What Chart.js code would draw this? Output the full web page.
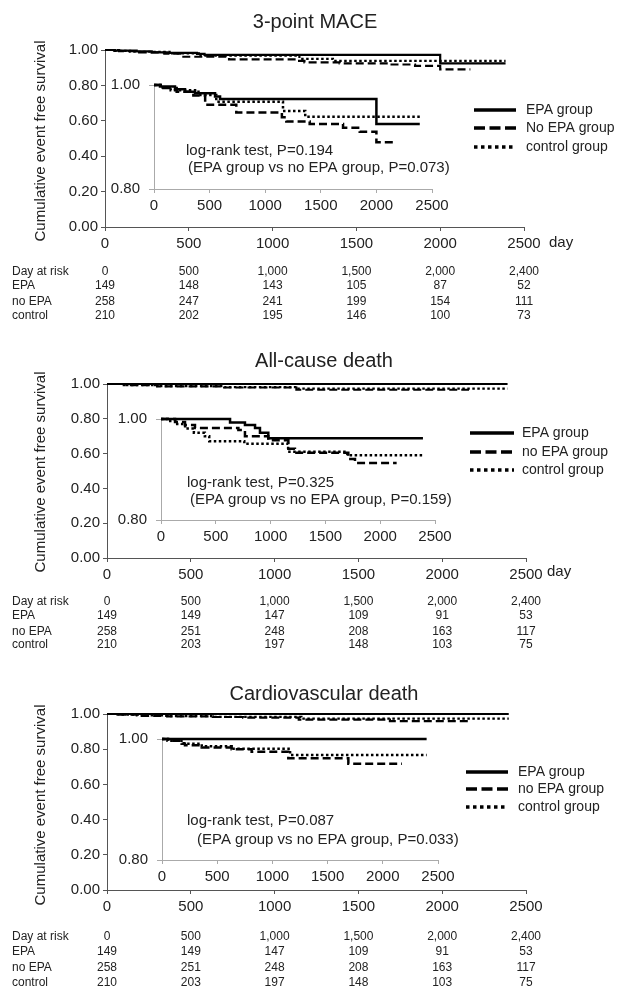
<!DOCTYPE html>
<html>
<head>
<meta charset="utf-8">
<script src="https://cdn.jsdelivr.net/npm/chart.js@4.4.1/dist/chart.umd.min.js"></script>
<style>
    body { margin: 0; background: #fff; }
    #page { position: relative; width: 619px; height: 990px; }
    .panel { position: absolute; left: 0; width: 619px; height: 330px; }
    .panel canvas { position: absolute; left: 0; top: 0; }
</style>
</head>
<body>
<div id="page">
    <div class="panel" style="top:0px"><canvas id="main0" width="619" height="330"></canvas><canvas id="inset0" width="619" height="330"></canvas></div>
    <div class="panel" style="top:330px"><canvas id="main1" width="619" height="330"></canvas><canvas id="inset1" width="619" height="330"></canvas></div>
    <div class="panel" style="top:660px"><canvas id="main2" width="619" height="330"></canvas><canvas id="inset2" width="619" height="330"></canvas></div>
</div>
<script>
// --- DATA ---
const titles = ['3-point MACE', 'All-cause death', 'Cardiovascular death'];
const legendNames1 = ['EPA group', 'No EPA group', 'control group'];
const legendNames = ['EPA group', 'no EPA group', 'control group'];
const logRank = [
    ['log-rank test, P=0.194', '(EPA group vs no EPA group, P=0.073)'],
    ['log-rank test, P=0.325', '(EPA group vs no EPA group, P=0.159)'],
    ['log-rank test, P=0.087', '(EPA group vs no EPA group, P=0.033)'],
];
const yTitle = 'Cumulative event free survival';
const mainYTicks = [0, 0.2, 0.4, 0.6, 0.8, 1.0];
const insetYTicks = [0.8, 1.0];
const xTicks = [0, 500, 1000, 1500, 2000, 2500];

// risk table
const riskHeader = ['0', '500', '1,000', '1,500', '2,000', '2,400'];
const riskRowNames = ['EPA', 'no EPA', 'control'];
const maceRiskEpa = [149, 148, 143, 105, 87, 52];
const maceRiskNoEpa = [258, 247, 241, 199, 154, 111];
const maceRiskControl = [210, 202, 195, 146, 100, 73];
const deathRiskEpa = [149, 149, 147, 109, 91, 53];
const deathRiskNoEpa = [258, 251, 248, 208, 163, 117];
const deathRiskControl = [210, 203, 197, 148, 103, 75];
const cvRiskEpa = [149, 149, 147, 109, 91, 53];
const cvRiskNoEpa = [258, 251, 248, 208, 163, 117];
const cvRiskControl = [210, 203, 197, 148, 103, 75];

// 3-point MACE curves (days of each step, survival after the step)
const maceEpaDays = [0, 54, 189, 279, 369, 549, 594, 2000, 2390];
const maceEpaSurv = [1, 0.997, 0.992, 0.987, 0.984, 0.978, 0.973, 0.925, 0.925];
const maceNoEpaDays = [0, 84, 204, 354, 460, 740, 1150, 1190, 1400, 1700, 1850, 2000, 2180];
const maceNoEpaSurv = [1, 0.994, 0.987, 0.980, 0.962, 0.947, 0.938, 0.930, 0.925, 0.918, 0.910, 0.890, 0.890];
const maceControlDays = [0, 60, 150, 400, 560, 1160, 1360, 2390];
const maceControlSurv = [1, 0.995, 0.990, 0.981, 0.968, 0.950, 0.939, 0.939];

// all-cause death, inset curves
const deathEpaDays = [0, 630, 766, 858, 903, 979, 2390];
const deathEpaSurv = [1, 0.993, 0.988, 0.982, 0.973, 0.962, 0.962];
const deathNoEpaDays = [0, 128, 219, 310, 706, 766, 979, 1162, 1222, 1709, 1770, 2150];
const deathNoEpaSurv = [1, 0.994, 0.988, 0.982, 0.978, 0.966, 0.958, 0.941, 0.933, 0.921, 0.913, 0.913];
const deathControlDays = [0, 60, 130, 220, 300, 400, 440, 760, 1160, 1700, 2390];
const deathControlSurv = [1, 0.996, 0.990, 0.981, 0.973, 0.966, 0.956, 0.951, 0.935, 0.928, 0.928];
// all-cause death, main panel curves (drawn differently in the source)
const deathMainEpaDays = [0, 2390];
const deathMainEpaSurv = [1, 1];
const deathMainNoEpaDays = [0, 100, 300, 700, 1130, 2160];
const deathMainNoEpaSurv = [1, 0.993, 0.986, 0.980, 0.967, 0.967];
const deathMainControlDays = [0, 100, 300, 700, 1130, 2390];
const deathMainControlSurv = [1, 0.994, 0.988, 0.982, 0.973, 0.973];

// cardiovascular death curves
const cvEpaDays = [0, 2397];
const cvEpaSurv = [1, 1];
const cvNoEpaDays = [0, 57, 178, 208, 360, 631, 812, 1144, 1688, 2174];
const cvNoEpaSurv = [1, 0.997, 0.992, 0.9895, 0.986, 0.983, 0.979, 0.968, 0.959, 0.959];
const cvControlDays = [0, 50, 200, 360, 631, 1160, 2397];
const cvControlSurv = [1, 0.997, 0.992, 0.988, 0.984, 0.9735, 0.9735];

document.addEventListener('DOMContentLoaded', function () {
    const W = 619, H = 330, AXIS_H = 30;
    const FONT = "'Liberation Sans', Arial, sans-serif";
    Chart.defaults.font.family = FONT;

    // line styles: solid / dashed / dotted
    const styles = [
        { dash: [], legendDash: [] },
        { dash: [8, 4], legendDash: [11, 4.5] },
        { dash: [2.5, 2.5], legendDash: [3.5, 3.5] },
    ];

    // --- LAYOUT OF EACH PANEL (page pixels) ---
    const panels = [
        {
            top: 0, titleX: 315, titleY: 28,
            main: { left: 105, right: 524, top: 50, bottom: 227 },
            inset: { left: 154, right: 432, top: 85, bottom: 189 },
            yTitleY: 141,
            legend: { x1: 474, x2: 516, tx: 526, ys: [110, 128, 147], names: legendNames1 },
            logRankPos: [[186, 151], [188, 168]],
            day: [549, 243],
            riskY: [272, 286, 302, 316],
            risk: [maceRiskEpa, maceRiskNoEpa, maceRiskControl],
            curves: [[maceEpaDays, maceEpaSurv], [maceNoEpaDays, maceNoEpaSurv], [maceControlDays, maceControlSurv]],
            mainCurves: null,
        },
        {
            top: 330, titleX: 324, titleY: 367,
            main: { left: 107, right: 526, top: 384, bottom: 558 },
            inset: { left: 161, right: 435, top: 419, bottom: 520 },
            yTitleY: 472,
            legend: { x1: 470, x2: 514, tx: 522, ys: [433, 452, 470], names: legendNames },
            logRankPos: [[187, 483], [190, 500]],
            day: [547, 572],
            riskY: [602, 616, 632, 645],
            risk: [deathRiskEpa, deathRiskNoEpa, deathRiskControl],
            curves: [[deathEpaDays, deathEpaSurv], [deathNoEpaDays, deathNoEpaSurv], [deathControlDays, deathControlSurv]],
            mainCurves: [[deathMainEpaDays, deathMainEpaSurv], [deathMainNoEpaDays, deathMainNoEpaSurv], [deathMainControlDays, deathMainControlSurv]],
        },
        {
            top: 660, titleX: 324, titleY: 700,
            main: { left: 107, right: 526, top: 714, bottom: 890 },
            inset: { left: 162, right: 438, top: 739, bottom: 860 },
            yTitleY: 805,
            legend: { x1: 466, x2: 508, tx: 518, ys: [772, 789, 807], names: legendNames },
            logRankPos: [[187, 821], [197, 840]],
            day: null,
            riskY: [937, 952, 968, 983],
            risk: [cvRiskEpa, cvRiskNoEpa, cvRiskControl],
            curves: [[cvEpaDays, cvEpaSurv], [cvNoEpaDays, cvNoEpaSurv], [cvControlDays, cvControlSurv]],
            mainCurves: null,
        },
    ];

    const toPoints = (days, surv) => days.map((d, i) => ({ x: d, y: surv[i] }));

    function buildChart(canvas, p, area, curves, yTicks, axisColor, lineWidth, extraPlugins) {
        const top = p.top;
        const isMain = area === p.main;
        return new Chart(canvas, {
            type: 'line',
            data: {
                datasets: curves.map((c, i) => ({
                    data: toPoints(c[0], c[1]),
                    stepped: 'before',
                    borderColor: '#000',
                    borderWidth: lineWidth,
                    borderDash: styles[i].dash,
                    pointRadius: 0,
                    fill: false,
                    clip: false,
                })),
            },
            options: {
                responsive: false,
                animation: false,
                devicePixelRatio: 1,
                events: [],
                layout: {
                    padding: {
                        left: 0,
                        top: area.top - top,
                        right: W - area.right,
                        bottom: H - (area.bottom - top) - AXIS_H,
                    },
                },
                plugins: { legend: { display: false }, tooltip: { enabled: false } },
                scales: {
                    x: {
                        type: 'linear',
                        min: xTicks[0], max: xTicks[xTicks.length - 1],
                        afterFit: s => { s.height = AXIS_H; },
                        afterBuildTicks: s => { s.ticks = xTicks.map(v => ({ value: v })); },
                        ticks: {
                            color: '#222', font: { size: 15 }, padding: 4, maxRotation: 0, autoSkip: false,
                            callback: v => String(v),
                        },
                        grid: { drawOnChartArea: false, drawTicks: true, tickLength: 4, color: axisColor },
                        border: { color: axisColor, width: 1 },
                    },
                    y: {
                        type: 'linear',
                        min: yTicks[0], max: yTicks[yTicks.length - 1],
                        afterFit: s => { s.width = area.left; },
                        afterBuildTicks: s => { s.ticks = yTicks.map(v => ({ value: v })); },
                        ticks: {
                            color: '#222', font: { size: 15 }, autoSkip: false,
                            padding: isMain ? 3 : 9,
                            callback: v => Number(v).toFixed(2),
                        },
                        grid: { drawOnChartArea: false, drawTicks: true, tickLength: isMain ? 4 : 5, color: axisColor },
                        border: { color: axisColor, width: 1 },
                    },
                },
            },
            plugins: extraPlugins,
        });
    }

    // texts, legend and number-at-risk table for each panel
    function textPlugin(p, idx) {
        return {
            id: 'panelText' + idx,
            afterDraw(chart) {
                const ctx = chart.ctx;
                const t = p.top;
                ctx.save();
                ctx.fillStyle = '#222';

                // title
                ctx.font = '20px ' + FONT;
                ctx.textAlign = 'center';
                ctx.textBaseline = 'alphabetic';
                ctx.fillText(titles[idx], p.titleX, p.titleY - t);

                // y axis title
                ctx.save();
                ctx.translate(41, p.yTitleY - t);
                ctx.rotate(-Math.PI / 2);
                ctx.font = '15px ' + FONT;
                ctx.textBaseline = 'middle';
                ctx.fillText(yTitle, 0, 0);
                ctx.restore();

                // log-rank annotation
                ctx.font = '15px ' + FONT;
                ctx.textAlign = 'left';
                ctx.textBaseline = 'middle';
                logRank[idx].forEach((s, i) => ctx.fillText(s, p.logRankPos[i][0], p.logRankPos[i][1] - t));

                // day unit
                if (p.day) ctx.fillText('day', p.day[0], p.day[1] - t);

                // legend
                const lg = p.legend;
                ctx.font = '14px ' + FONT;
                lg.names.forEach((name, i) => {
                    const y = lg.ys[i] - t;
                    ctx.beginPath();
                    ctx.setLineDash(styles[i].legendDash);
                    ctx.lineWidth = 3.3;
                    ctx.strokeStyle = '#000';
                    ctx.moveTo(lg.x1, y);
                    ctx.lineTo(lg.x2, y);
                    ctx.stroke();
                    ctx.fillText(name, lg.tx, y);
                });
                ctx.setLineDash([]);

                // number at risk
                const xs = chart.scales.x;
                ctx.font = '12px ' + FONT;
                ctx.textAlign = 'left';
                ctx.fillText('Day at risk', 12, p.riskY[0] - t);
                riskRowNames.forEach((n, r) => ctx.fillText(n, 12, p.riskY[r + 1] - t));
                ctx.textAlign = 'center';
                riskHeader.forEach((h, c) => {
                    const x = xs.getPixelForValue(xTicks[c]);
                    ctx.fillText(h, x, p.riskY[0] - t);
                    p.risk.forEach((row, r) => ctx.fillText(String(row[c]), x, p.riskY[r + 1] - t));
                });
                ctx.restore();
            },
        };
    }

    panels.forEach((p, idx) => {
        const mainCanvas = document.getElementById('main' + idx);
        const insetCanvas = document.getElementById('inset' + idx);
        buildChart(mainCanvas, p, p.main, p.mainCurves || p.curves, mainYTicks, '#555', 2.2, [textPlugin(p, idx)]);
        buildChart(insetCanvas, p, p.inset, p.curves, insetYTicks, '#aaa', 2.5, []);
    });
});
</script>
</body>
</html>
